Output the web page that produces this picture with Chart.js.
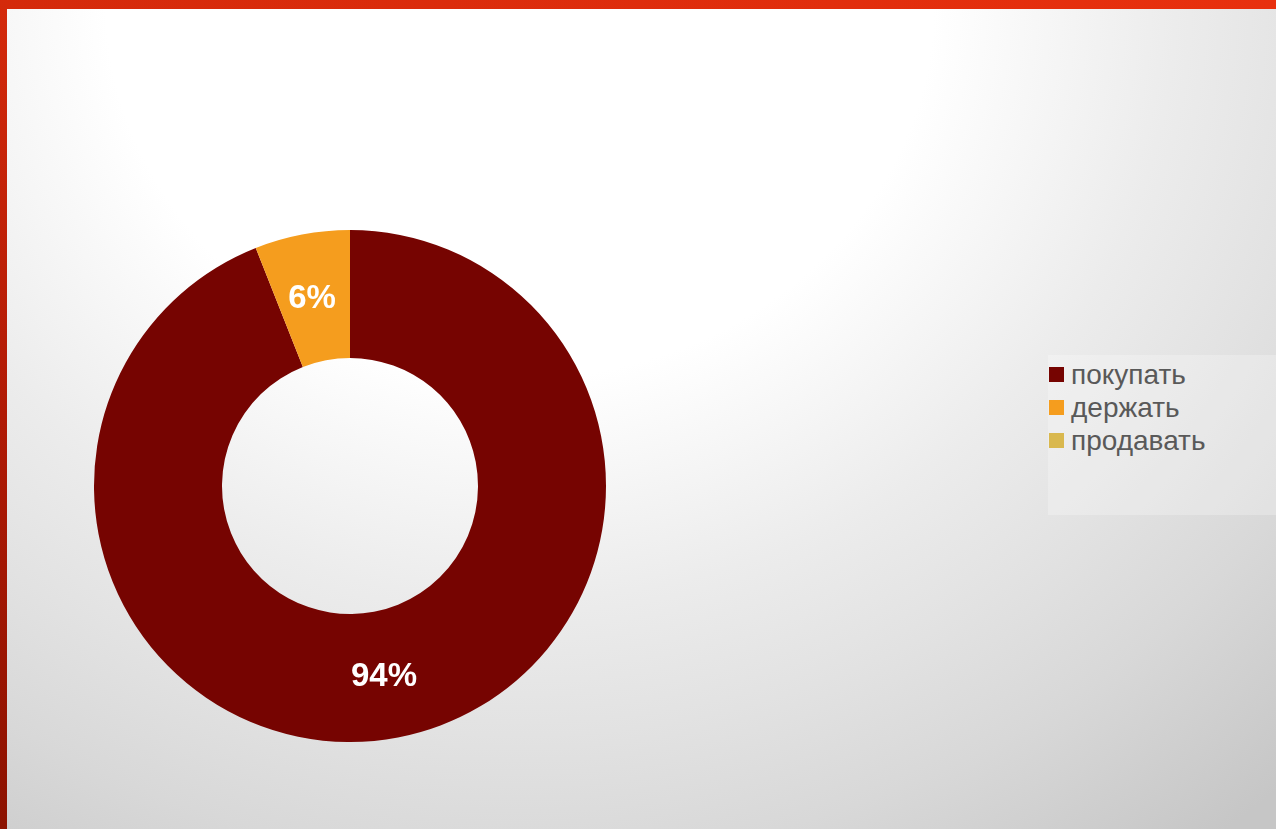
<!DOCTYPE html>
<html>
<head>
<meta charset="utf-8">
<script src="https://cdn.jsdelivr.net/npm/chart.js@4/dist/chart.umd.min.js"></script>
<style>
  html, body { margin: 0; padding: 0; }
  body {
    width: 1276px; height: 829px; position: relative; overflow: hidden;
    background: radial-gradient(ellipse 1150px 1050px at 520px 0px, #ffffff 0%, #ffffff 36%, #f6f6f6 46%, #ececec 57%, #e2e2e2 70%, #d8d8d8 82%, #cacaca 96%, #c6c6c6 100%);
    font-family: "Liberation Sans", Arial, sans-serif;
  }
  .topbar { position: absolute; left: 0; top: 0; width: 1276px; height: 9px;
    background: linear-gradient(to right, #d42a0b, #e8300e); }
  .leftbar { position: absolute; left: 0; top: 0; width: 7px; height: 829px;
    background: linear-gradient(to bottom, #d42a0b, #b01a05 50%, #8c1200); }
  #wrap { position: absolute; left: 94px; top: 230px; width: 512px; height: 512px; }
  #legend { position: absolute; left: 1048px; top: 355px; width: 228px; height: 160px;
    background: rgba(255,255,255,0.25); box-sizing: border-box; padding-top: 3px; }
  #legend .item { display: flex; align-items: center; height: 33px; font-size: 28px; color: #595959; }
  #legend .sw { width: 15px; height: 15px; margin-left: 1px; margin-right: 7px; }
</style>
</head>
<body>
<div class="topbar"></div>
<div class="leftbar"></div>
<div id="wrap"><canvas id="donut"></canvas></div>
<div id="legend"></div>
<script>
  // рекомендации аналитиков
  const labels = ['покупать', 'держать', 'продавать'];
  const values = [94, 6, 0];
  const colors = ['#760401', '#f59d1e', '#d9b84e'];

  // подписи процентов по центру каждого сектора
  const pctLabels = {
    id: 'pctLabels',
    afterDatasetsDraw(chart) {
      const ctx = chart.ctx;
      const meta = chart.getDatasetMeta(0);
      ctx.save();
      ctx.fillStyle = '#ffffff';
      ctx.font = 'bold 33px "Liberation Sans", Arial, sans-serif';
      ctx.textAlign = 'center';
      ctx.textBaseline = 'middle';
      meta.data.forEach((arc, i) => {
        if (!values[i]) return;
        const p = arc.tooltipPosition();
        ctx.fillText(values[i] + '%', p.x - 2, p.y + 2);
      });
      ctx.restore();
    }
  };

  const chart = new Chart(document.getElementById('donut'), {
    type: 'doughnut',
    data: {
      labels: labels,
      datasets: [{
        data: values,
        backgroundColor: colors,
        borderWidth: 0
      }]
    },
    options: {
      responsive: true,
      maintainAspectRatio: false,
      animation: false,
      cutout: '50%',
      layout: { padding: 0 },
      plugins: {
        legend: { display: false },
        tooltip: { enabled: false }
      }
    },
    plugins: [pctLabels]
  });

  // легенда справа
  const legendBox = document.getElementById('legend');
  chart.options.plugins.legend.labels.generateLabels(chart).forEach(item => {
    const row = document.createElement('div');
    row.className = 'item';
    const sw = document.createElement('span');
    sw.className = 'sw';
    sw.style.background = item.fillStyle;
    const txt = document.createElement('span');
    txt.textContent = item.text;
    row.appendChild(sw);
    row.appendChild(txt);
    legendBox.appendChild(row);
  });
</script>
</body>
</html>
